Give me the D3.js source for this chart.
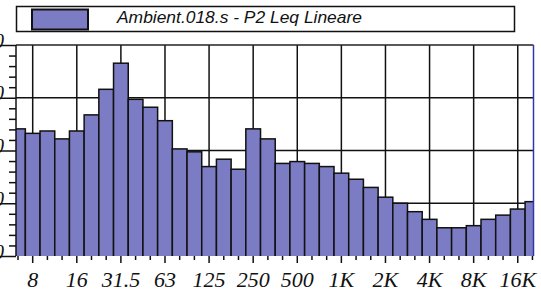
<!DOCTYPE html>
<meta charset="utf-8">
<style>
body { margin: 0; background: #fff; }
.xlab text { font-family: "Liberation Serif", serif; font-style: italic; font-size: 22px; fill: #111; }
.ylab text { font-family: "Liberation Serif", serif; font-style: italic; font-size: 20px; fill: #111; }
</style>
<script src="https://d3js.org/d3.v7.min.js"></script>
<div id="chart"></div>
<script>
// 1/3 octave bands, Leq (dB)
var bands = ["6.3","8","10","12.5","16","20","25","31.5","40","50","63","80","100","125","160","200",
  "250","315","400","500","630","800","1K","1.25K","1.6K","2K","2.5K","3.15K","4K","5K","6.3K","8K",
  "10K","12.5K","16K","20K"];
var levels = [48.2,46.5,47.4,44.4,47.4,53.5,63.2,73.1,59.4,56.4,51.3,40.6,39.5,33.9,36.7,32.9,
  48.2,44.4,35.1,35.8,35.1,33.9,31.4,29.1,26.0,22.3,20.0,16.8,13.9,10.7,10.7,11.5,
  13.9,15.5,17.8,20.6];
var majorBands = ["8","16","31.5","63","125","250","500","1K","2K","4K","8K","16K"];
var yTicks = [0, 20, 40, 60, 80];
var seriesName = "Ambient.018.s - P2 Leq Lineare";

var W = 541, H = 297;
var plotL = 16, plotR = 533.5, plotT = 45, plotB = 256;
var barColor = "#7c7cc4";

var svg = d3.select("#chart").append("svg")
  .attr("width", W).attr("height", H);

var x = d3.scaleBand().domain(bands).range([10.65, 539.8]).padding(0);
var y = d3.scaleLinear().domain([0, 80]).range([plotB, plotT]);

svg.append("clipPath").attr("id", "plot")
  .append("rect").attr("x", plotL).attr("y", plotT - 1).attr("width", plotR - plotL).attr("height", plotB - plotT + 1);

// grid
var grid = svg.append("g").attr("stroke", "#111").attr("stroke-width", 1.5);
grid.selectAll("line.v").data(majorBands).enter().append("line")
  .attr("x1", function(d){ return x(d) + x.bandwidth()/2; })
  .attr("x2", function(d){ return x(d) + x.bandwidth()/2; })
  .attr("y1", plotT).attr("y2", plotB);
grid.selectAll("line.h").data(yTicks.slice(1, -1)).enter().append("line")
  .attr("x1", plotL).attr("x2", plotR)
  .attr("y1", function(d){ return y(d); }).attr("y2", function(d){ return y(d); });

// bars
svg.append("g").attr("clip-path", "url(#plot)")
  .selectAll("rect").data(bands).enter().append("rect")
    .attr("x", function(d){ return x(d); })
    .attr("y", function(d, i){ return y(levels[i]); })
    .attr("width", x.bandwidth())
    .attr("height", function(d, i){ return plotB - y(levels[i]) + 2; })
    .attr("fill", barColor)
    .attr("stroke", "#111")
    .attr("stroke-width", 1.5);

// frame
svg.append("line").attr("x1", plotL).attr("x2", plotR).attr("y1", plotT).attr("y2", plotT)
  .attr("stroke", "#222").attr("stroke-width", 1.5);
svg.append("line").attr("x1", plotR).attr("x2", plotR).attr("y1", plotT).attr("y2", plotB)
  .attr("stroke", "#3434b0").attr("stroke-width", 1.5);

// x axis
var xMinor = svg.append("g").attr("transform", "translate(0," + plotB + ")")
  .call(d3.axisBottom(x).tickValues(bands.filter(function(b){ return majorBands.indexOf(b) < 0; }))
    .tickSize(4).tickFormat(""));
var xMajor = svg.append("g").attr("class", "xlab").attr("transform", "translate(0," + plotB + ")")
  .call(d3.axisBottom(x).tickValues(majorBands).tickSize(7).tickPadding(11));
svg.selectAll(".xlab text").attr("font-family", null).attr("font-size", null).attr("dy", "0.6em");
[xMinor, xMajor].forEach(function(g){
  g.select(".domain").remove();
  g.selectAll("line").attr("stroke", "#111").attr("stroke-width", 1.5);
});

// y axis
var yMinorVals = d3.range(0, 81, 4).filter(function(v){ return v % 20 !== 0; });
var yMinor = svg.append("g").attr("transform", "translate(" + plotL + ",0)")
  .call(d3.axisLeft(y).tickValues(yMinorVals).tickSize(7).tickFormat(""));
var yMajor = svg.append("g").attr("class", "ylab").attr("transform", "translate(" + plotL + ",0)")
  .call(d3.axisLeft(y).tickValues(yTicks).tickSize(16).tickPadding(-4));
svg.selectAll(".ylab text").attr("font-family", null).attr("font-size", null).attr("dy", "0.1em");
[yMinor, yMajor].forEach(function(g){
  g.select(".domain").remove();
  g.selectAll("line").attr("stroke", "#111").attr("stroke-width", 1.5);
});
svg.append("line").attr("x1", plotL).attr("x2", plotL).attr("y1", plotT).attr("y2", plotB)
  .attr("stroke", "#111").attr("stroke-width", 1.5);

// legend
var leg = svg.append("g");
leg.append("rect").attr("x", 16.5).attr("y", 6.5).attr("width", 498).attr("height", 25)
  .attr("fill", "#fff").attr("stroke", "#111").attr("stroke-width", 1.5);
leg.append("rect").attr("x", 32).attr("y", 9.5).attr("width", 56).attr("height", 20)
  .attr("fill", barColor).attr("stroke", "#111").attr("stroke-width", 2);
leg.append("text").attr("x", 117).attr("y", 22.5)
  .attr("font-family", "'Liberation Sans', Arial, sans-serif")
  .attr("font-style", "italic").attr("font-size", 17).attr("fill", "#111")
  .attr("textLength", 245).attr("lengthAdjust", "spacingAndGlyphs")
  .text(seriesName);
</script>
